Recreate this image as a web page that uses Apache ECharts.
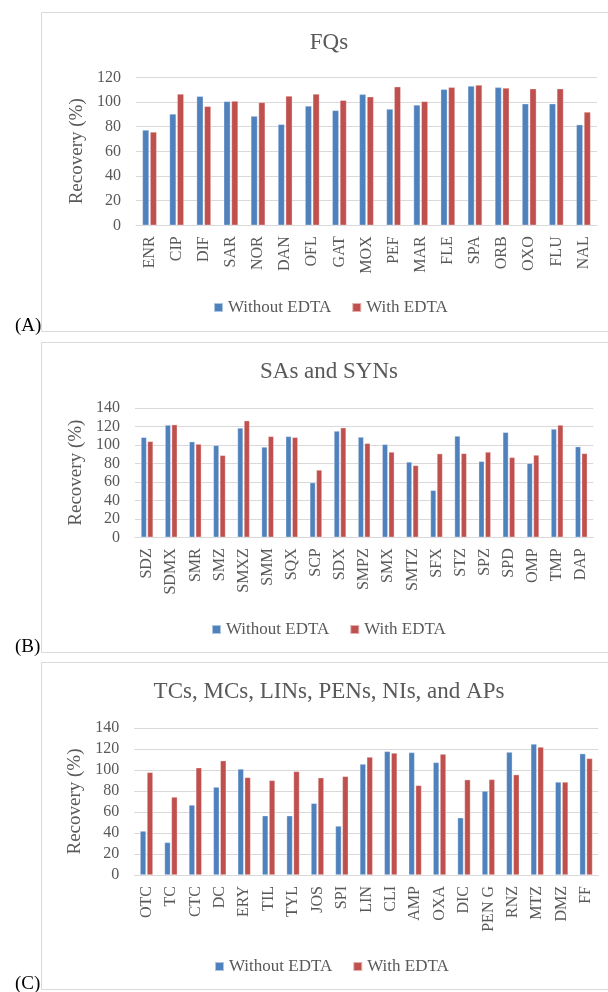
<!DOCTYPE html>
<html>
<head>
<meta charset="utf-8">
<script src="https://cdn.jsdelivr.net/npm/echarts@6/dist/echarts.min.js"></script>
<style>
  html, body { margin: 0; padding: 0; background: #fff; }
  #chart { width: 608px; height: 992px; }
</style>
</head>
<body>
<div id="chart"></div>
<script>
// (A) fluoroquinolones
const fqCategories = ['ENR','CIP','DIF','SAR','NOR','DAN','OFL','GAT','MOX','PEF','MAR','FLE','SPA','ORB','OXO','FLU','NAL'];
const fqWithout = [77.3, 90.3, 104.6, 100.5, 88.6, 81.9, 96.8, 93.2, 106.2, 94.3, 97.6, 110.3, 113.0, 111.9, 98.6, 98.6, 81.6];
const fqWith    = [75.7, 106.5, 96.5, 100.8, 99.7, 104.9, 106.5, 101.4, 104.3, 112.4, 100.5, 111.9, 113.8, 111.4, 110.8, 110.8, 91.9];

// (B) sulfonamides and synergists
const saCategories = ['SDZ','SDMX','SMR','SMZ','SMXZ','SMM','SQX','SCP','SDX','SMPZ','SMX','SMTZ','SFX','STZ','SPZ','SPD','OMP','TMP','DAP'];
const saWithout = [108.3, 121.6, 103.6, 99.6, 118.4, 97.8, 109.3, 59.2, 115.1, 108.6, 100.7, 81.6, 50.9, 109.7, 82.3, 113.7, 80.1, 117.3, 98.2];
const saWith    = [103.9, 122.0, 101.0, 88.8, 126.3, 109.3, 108.3, 72.9, 118.7, 101.8, 92.4, 77.9, 90.6, 90.9, 92.4, 86.6, 89.1, 121.6, 90.9];

// (C) tetracyclines, macrolides, lincosamides, penicillins, nitroimidazoles, amphenicols
const tcCategories = ['OTC','TC','CTC','DC','ERY','TIL','TYL','JOS','SPI','LIN','CLI','AMP','OXA','DIC','PEN G','RNZ','MTZ','DMZ','FF'];
const tcWithout = [41.9, 31.1, 66.7, 83.8, 101.0, 56.5, 56.5, 68.3, 46.7, 105.7, 117.8, 116.8, 107.3, 54.6, 80.0, 117.1, 124.8, 88.6, 115.6];
const tcWith    = [97.8, 74.3, 102.2, 108.9, 93.0, 90.2, 98.7, 92.7, 94.0, 112.4, 116.2, 85.4, 115.2, 90.8, 91.1, 95.6, 121.9, 88.6, 111.1];

const seriesNames = ['Without EDTA', 'With EDTA'];
const panelTitles = ['FQs', 'SAs and SYNs', 'TCs, MCs, LINs, PENs, NIs, and APs'];
const panelLetters = ['(A)', '(B)', '(C)'];
const yMax = [120, 140, 140];

const FONT = "'Times New Roman', 'Liberation Serif', serif";
const TEXT = '#595959';
const GRID_LINE = '#d9d9d9';
const BLUE = '#4f81bd';
const RED = '#c0504d';

const panels = [
  { cats: fqCategories, a: fqWithout, b: fqWith, grid: { left: 136, right: 11, top: 77.3, height: 148 },
    barWidth: '24.7%', box: [12.5, 331.5], titleY: 43, legendTop: 299, legendLeft: 213, letterY: 326 },
  { cats: saCategories, a: saWithout, b: saWith, grid: { left: 135, right: 14.7, top: 408, height: 129.3 },
    barWidth: '23.5%', box: [342.5, 652.5], titleY: 372, legendTop: 621, legendLeft: 211, letterY: 647 },
  { cats: tcCategories, a: tcWithout, b: tcWith, grid: { left: 134.3, right: 9.7, top: 728, height: 147 },
    barWidth: '24.6%', box: [662.5, 989.5], titleY: 692, legendTop: 958, legendLeft: 214, letterY: 984 }
];

const option = {
  animation: false,
  backgroundColor: '#fff',
  textStyle: { fontFamily: FONT },
  title: panels.map((p, i) => ({
    text: panelTitles[i],
    left: 329,
    top: p.titleY - 12,
    textAlign: 'center',
    padding: 0,
    textStyle: { fontFamily: FONT, fontSize: 23, fontWeight: 'normal', color: TEXT }
  })),
  legend: panels.map((p) => ({
    data: seriesNames,
    left: p.legendLeft,
    top: p.legendTop,
    padding: 0,
    icon: 'rect',
    itemWidth: 9,
    itemHeight: 9,
    itemGap: 20,
    selectedMode: false,
    textStyle: { fontFamily: FONT, fontSize: 17, color: TEXT }
  })),
  grid: panels.map((p) => Object.assign({ containLabel: false }, p.grid)),
  xAxis: panels.map((p, i) => ({
    type: 'category',
    gridIndex: i,
    data: p.cats,
    axisLine: { lineStyle: { color: GRID_LINE, width: 1 } },
    axisTick: { show: false },
    axisLabel: { rotate: 90, interval: 0, margin: 11, fontFamily: FONT, fontSize: 16, color: TEXT }
  })),
  yAxis: panels.map((p, i) => ({
    type: 'value',
    gridIndex: i,
    min: 0,
    max: yMax[i],
    interval: 20,
    name: 'Recovery (%)',
    nameLocation: 'middle',
    nameGap: 49,
    nameTextStyle: { fontFamily: FONT, fontSize: 19, color: TEXT },
    axisLine: { show: false },
    axisTick: { show: false },
    axisLabel: { margin: 15, fontFamily: FONT, fontSize: 16, color: TEXT },
    splitLine: { lineStyle: { color: GRID_LINE, width: 1 } }
  })),
  graphic: [
    ...panels.map((p) => ({
      type: 'rect',
      silent: true,
      z: -1,
      shape: { x: 41.5, y: p.box[0], width: 620, height: p.box[1] - p.box[0] },
      style: { fill: 'none', stroke: GRID_LINE, lineWidth: 1 }
    })),
    ...panels.map((p, i) => ({
      type: 'text',
      silent: true,
      style: {
        text: panelLetters[i],
        x: 15, y: p.letterY,
        verticalAlign: 'middle',
        fontFamily: FONT, fontSize: 19, fill: '#000'
      }
    }))
  ],
  series: panels.flatMap((p, i) => [
    {
      name: seriesNames[0], type: 'bar', xAxisIndex: i, yAxisIndex: i,
      data: p.a, barWidth: p.barWidth, barGap: '15%',
      itemStyle: { color: BLUE, borderColor: 'rgba(255,255,255,0.55)', borderWidth: 0.6 }
    },
    {
      name: seriesNames[1], type: 'bar', xAxisIndex: i, yAxisIndex: i,
      data: p.b, barWidth: p.barWidth, barGap: '15%',
      itemStyle: { color: RED, borderColor: 'rgba(255,255,255,0.55)', borderWidth: 0.6 }
    }
  ])
};

const chart = echarts.init(document.getElementById('chart'), null, { renderer: 'canvas' });
chart.setOption(option);
</script>
</body>
</html>
